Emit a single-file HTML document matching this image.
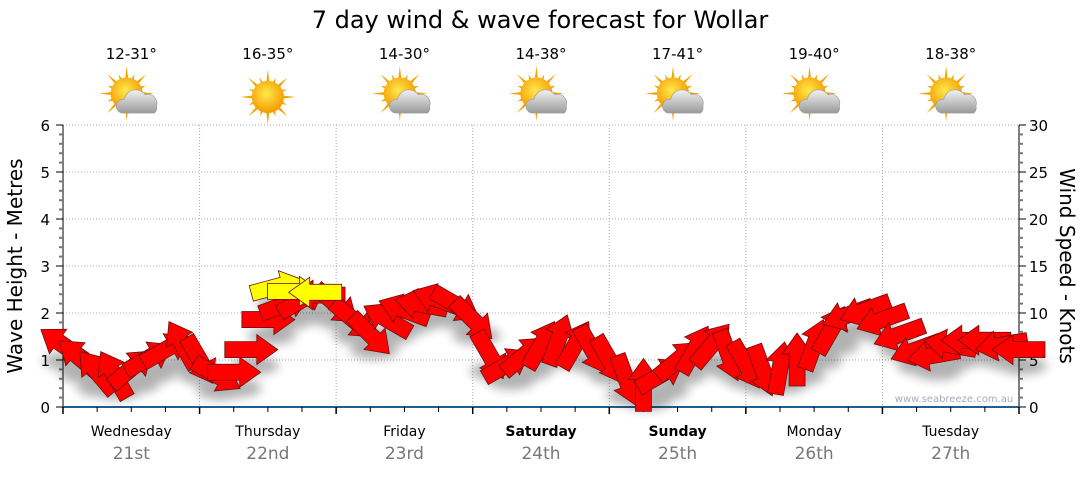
<!DOCTYPE html>
<html><head><meta charset="utf-8"><style>
body{margin:0;background:#fff;width:1080px;height:475px;overflow:hidden;font-family:"DejaVu Sans","Liberation Sans",sans-serif}
</style></head><body>
<svg width="1080" height="475" xmlns="http://www.w3.org/2000/svg" font-family="DejaVu Sans, Liberation Sans, sans-serif">
<defs>
<radialGradient id="sun" cx="45%" cy="40%" r="60%"><stop offset="0" stop-color="#ffe94a"/><stop offset="1" stop-color="#f59a00"/></radialGradient>
<linearGradient id="cloud" x1="0" y1="0" x2="0" y2="1"><stop offset="0" stop-color="#f2f2f2"/><stop offset="1" stop-color="#9a9a9a"/></linearGradient>
<filter id="blur"><feGaussianBlur stdDeviation="5"/></filter>
</defs>
<text x="540" y="28" font-size="24" text-anchor="middle">7 day wind &amp; wave forecast for Wollar</text>
<g id="icons"></g>
<g id="grid"></g>
<g id="axes"></g>
<g id="shadows" filter="url(#blur)" opacity="0.3"></g>
<g id="marks"></g>
<text x="954" y="402" font-size="10" fill="#aab" text-anchor="middle">www.seabreeze.com.au</text>
<text transform="translate(22,266) rotate(-90)" font-size="20" text-anchor="middle">Wave Height - Metres</text>
<text transform="translate(1060,266) rotate(90)" font-size="20" text-anchor="middle">Wind Speed - Knots</text>
</svg>
<script>
const days=["Wednesday","Thursday","Friday","Saturday","Sunday","Monday","Tuesday"];
const dates=["21st","22nd","23rd","24th","25th","26th","27th"];
const boldDays=[false,false,false,true,true,false,false];
const temps=["12-31°","16-35°","14-30°","14-38°","17-41°","19-40°","18-38°"];
const cloudy=[true,false,true,true,true,true,true];
const leftTicks=[0,1,2,3,4,5,6];
const rightTicks=[0,5,10,15,20,25,30];
const windSpeed=[6.6,5.2,3.7,3.4,4.1,5.2,6.1,6.6, 5.0,3.4,3.7,6.1,9.3,10.9,11.4,11.9, 10.9,9.3,7.7,9.3,10.3,10.9,11.4,10.9, 9.3,5.5,4.5,5.5,6.6,7.1,6.6,6.1, 5.0,2.9,2.3,3.4,5.0,6.1,6.6,5.5, 4.5,3.9,4.1,5.0,6.6,8.2,9.8,10.3, 9.3,7.7,6.1,5.5,6.6,7.1,7.1,6.6,6.1];
const windDir=[-145,-140,-130,-120,-40,-30,-30,-120, 60,30,0,0,0,-20,-30,180, 40,40,45,-150,-160,-170,-160,30, 45,60,-30,-40,-60,-70,-60,60, 60,70,-90,-30,-40,-60,-50,70, 60,70,-80,-90,-70,-60,160,160, 160,160,160,170,-170,180,180,170,180];
const gustTime=[12.5,13.5,14.8];
const gustSpeed=[12.8,12.3,12.2];
const gustDir=[-15,0,180];

const X0=63,X1=1019,Y0=407,Y1=125;
const NS="http://www.w3.org/2000/svg";
const xDay=d=>X0+(X1-X0)*d/7;
const xStep=i=>xDay(i/8);
const yM=v=>Y0-(Y0-Y1)*v/6;
const yK=v=>Y0-(Y0-Y1)*v/30;
function mk(t,a,p){const e=document.createElementNS(NS,t);for(const k in a)e.setAttribute(k,a[k]);(p||document.getElementById('marks')).appendChild(e);return e;}
const grid=document.getElementById('grid'),axes=document.getElementById('axes'),icons=document.getElementById('icons');
for(let i=1;i<=6;i++){const g=mk('line',{x1:X0,x2:X1,y1:yM(i),y2:yM(i),stroke:'#aaa','stroke-dasharray':'1,2'},grid);

}
for(let d=1;d<7;d++){const g=mk('line',{x1:xDay(d),x2:xDay(d),y1:Y1,y2:Y0,stroke:'#aaa','stroke-dasharray':'1,2'},grid);

}
mk('line',{x1:X0,x2:X0,y1:Y1,y2:Y0,stroke:'#000'},axes);
mk('line',{x1:X1,x2:X1,y1:Y1,y2:Y0,stroke:'#000'},axes);
const xl=mk('line',{x1:X0,x2:X1,y1:Y0,y2:Y0,stroke:'#1f5f8f','stroke-width':2},axes);


for(let i=0;i<=30;i++){const v=i*0.2;const maj=i%5==0;
mk('line',{x1:X0-(maj?7:4),x2:X0,y1:yM(v),y2:yM(v),stroke:maj?'#000':'#777','stroke-width':maj?1:2},axes);
mk('line',{x1:X1,x2:X1+(maj?7:4),y1:yM(v),y2:yM(v),stroke:maj?'#000':'#777','stroke-width':maj?1:2},axes);}
leftTicks.forEach(v=>{const t=mk('text',{x:50,y:yM(v)+6,'font-size':15,'text-anchor':'end'},axes);t.textContent=v;

});
rightTicks.forEach(v=>{const t=mk('text',{x:1029,y:yK(v)+6,'font-size':15},axes);t.textContent=v;

});
for(let i=0;i<=28;i++){const x=xDay(i/4);const maj=i%4==0;mk('line',{x1:x,x2:x,y1:Y0,y2:Y0+(maj?7:5),stroke:'#000','stroke-width':maj?1.5:1},axes);}
days.forEach((d,i)=>{const cx=xDay(i+0.5);
const t=mk('text',{x:cx,y:436,'font-size':14,'text-anchor':'middle','font-weight':boldDays[i]?'bold':'normal'},axes);t.textContent=d;


const t2=mk('text',{x:cx,y:459,'font-size':17,'text-anchor':'middle',fill:'#777'},axes);t2.textContent=dates[i];


const t3=mk('text',{x:cx,y:59,'font-size':15,'text-anchor':'middle'},icons);t3.textContent=temps[i];


const g=mk('g',{transform:`translate(${cx},97) scale(1.15)`},icons);


const sx=cloudy[i]?-4:0,sy=cloudy[i]?-3:0;
for(let k=0;k<16;k++){const a=k*Math.PI/8,L=k%2?18:24;mk('polygon',{points:`${sx+Math.cos(a)*L},${sy+Math.sin(a)*L} ${sx+Math.cos(a+0.12)*12},${sy+Math.sin(a+0.12)*12} ${sx+Math.cos(a-0.12)*12},${sy+Math.sin(a-0.12)*12}`,fill:'#f5a300'},g);}
mk('circle',{cx:sx,cy:sy,r:14,fill:'url(#sun)'},g);
if(cloudy[i]){mk('path',{d:'M-8,14 a6,6 0 0 1 2,-12 a10,10 0 0 1 18,-4 a8,8 0 0 1 10,10 a6,6 0 0 1 -2,6 z',fill:'url(#cloud)',stroke:'#999','stroke-width':0.5},g);}
});
const shadows=document.getElementById('shadows');
function arrow(x,y,ang,col,name){
const s=mk('ellipse',{cx:x+4,cy:y+16,rx:24,ry:9,fill:'#000'},shadows);
const a=mk('polygon',{points:'-26,-8 6,-8 6,-15 27,0 6,15 6,8 -26,8',fill:col,stroke:'#6a1010','stroke-width':0.8,transform:`translate(${x},${y}) rotate(${ang})`});

}
windSpeed.forEach((v,i)=>arrow(xStep(i),yK(v),windDir[i],'#ff0000','wind-arrow'));
gustSpeed.forEach((v,i)=>arrow(xStep(gustTime[i]),yK(v),gustDir[i],'#ffff00','gust-arrow'));
</script>
</body></html>
